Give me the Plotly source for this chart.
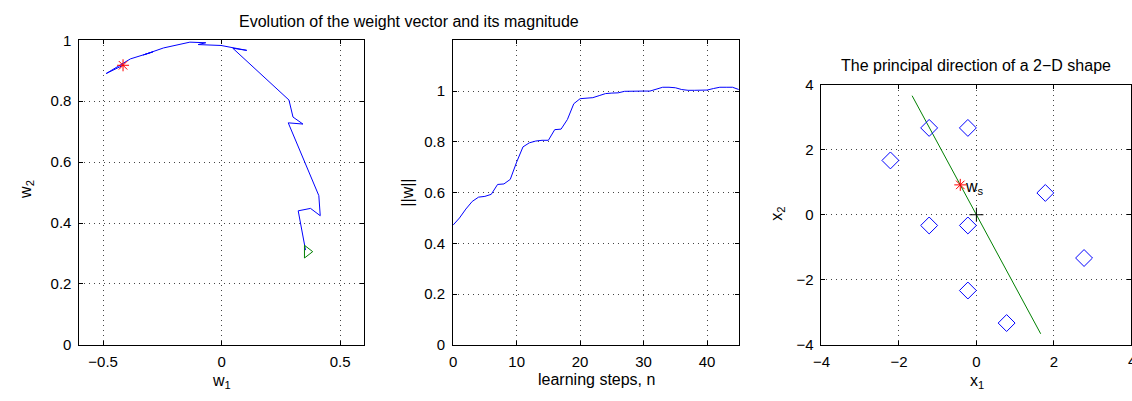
import plotly.graph_objects as go

W, H = 1132, 401

# ---- data ----
# left panel: trajectory of the weight vector (w1, w2)
path_w1 = [0.354, 0.323, 0.375, 0.416, 0.410, 0.345, 0.281, 0.343, 0.301, 0.284,
           0.047, 0.106, -0.002, -0.099, -0.067, -0.134, -0.245, -0.330, -0.290,
           -0.375, -0.310, -0.385, -0.487, -0.416]
path_w2 = [0.311, 0.440, 0.448, 0.424, 0.490, 0.610, 0.729, 0.725, 0.748, 0.804,
           0.974, 0.967, 0.983, 0.986, 0.992, 0.994, 0.975, 0.952, 0.962,
           0.940, 0.956, 0.939, 0.891, 0.918]
w_start = (0.361, 0.306)
w_final = (-0.416, 0.918)

# middle panel: magnitude of w vs learning step
steps = list(range(46))
mag = [0.472, 0.500, 0.535, 0.565, 0.582, 0.585, 0.593, 0.632, 0.634, 0.652,
       0.720, 0.780, 0.796, 0.803, 0.806, 0.806, 0.848, 0.850, 0.888, 0.950,
       0.970, 0.972, 0.974, 0.982, 0.990, 0.992, 0.993, 0.999, 1.000, 1.000,
       1.000, 1.000, 1.008, 1.015, 1.015, 1.013, 1.006, 1.003, 1.003, 1.003,
       1.004, 1.010, 1.015, 1.015, 1.015, 1.006]

# right panel: 2-D shape points and principal direction
pts_x1 = [-1.22, -0.22, -2.22, 1.78, -1.22, -0.22, 2.78, -0.22, 0.78]
pts_x2 = [2.67, 2.67, 1.67, 0.67, -0.33, -0.33, -1.33, -2.33, -3.33]
dir_x1 = [-1.66, 1.66]
dir_x2 = [3.66, -3.66]

# ---- layout helpers ----
def fx(px):
    return px / W

def fy(py):
    return 1 - py / H

BLUE = "#0000ff"
GREEN = "#008000"
RED = "#ff0000"
FONT = "Liberation Sans, Arial, sans-serif"
FS = 15
TS = 16

fig = go.Figure()

# left
fig.add_trace(go.Scatter(x=path_w1, y=path_w2, mode="lines",
                         line=dict(color=BLUE, width=1), xaxis="x", yaxis="y"))
fig.add_trace(go.Scatter(x=[w_start[0]], y=[w_start[1]], mode="markers",
                         marker=dict(symbol="triangle-right-open", size=11,
                                     color=GREEN, line=dict(width=1, color=GREEN)),
                         xaxis="x", yaxis="y"))
fig.add_trace(go.Scatter(x=[w_final[0]], y=[w_final[1]], mode="markers",
                         marker=dict(symbol="asterisk-open", size=10,
                                     color=RED, line=dict(width=1, color=RED)),
                         xaxis="x", yaxis="y"))
# middle
fig.add_trace(go.Scatter(x=steps, y=mag, mode="lines",
                         line=dict(color=BLUE, width=1), xaxis="x2", yaxis="y2"))
# right
fig.add_trace(go.Scatter(x=dir_x1, y=dir_x2, mode="lines",
                         line=dict(color=GREEN, width=1), xaxis="x3", yaxis="y3"))
fig.add_trace(go.Scatter(x=pts_x1, y=pts_x2, mode="markers",
                         marker=dict(symbol="diamond-open", size=13, color=BLUE,
                                     line=dict(width=1, color=BLUE)),
                         xaxis="x3", yaxis="y3"))
fig.add_trace(go.Scatter(x=[w_final[0]], y=[w_final[1]], mode="markers",
                         marker=dict(symbol="asterisk-open", size=10, color=RED,
                                     line=dict(width=1, color=RED)),
                         xaxis="x3", yaxis="y3"))
fig.add_trace(go.Scatter(x=[0], y=[0], mode="markers",
                         marker=dict(symbol="cross-thin-open", size=10, color="black",
                                     line=dict(width=1, color="black")),
                         xaxis="x3", yaxis="y3"))

axis_common = dict(showline=True, linecolor="black", linewidth=1, mirror="allticks",
                   ticks="inside", ticklen=4, tickcolor="black",
                   showgrid=True, gridcolor="#444444", griddash="1px,4px", gridwidth=1,
                   zeroline=False, tickfont=dict(family=FONT, size=FS, color="black"))
xcommon = dict(axis_common, ticklabelstandoff=3)
ycommon = dict(axis_common, ticklabelstandoff=4)

fig.update_layout(
    width=W, height=H, margin=dict(l=0, r=0, t=0, b=0),
    paper_bgcolor="white", plot_bgcolor="white", showlegend=False,
    font=dict(family=FONT, size=FS, color="black"),
    xaxis=dict(domain=[fx(71), fx(357.7)], range=[-0.6, 0.6],
               tickvals=[-0.5, 0, 0.5], anchor="y", **xcommon),
    yaxis=dict(domain=[fy(350.7), fy(32.7)], range=[0, 1],
               tickvals=[0, 0.2, 0.4, 0.6, 0.8, 1], anchor="x", **ycommon),
    xaxis2=dict(domain=[fx(447.7), fx(735.7)], range=[0, 45],
                tickvals=[0, 10, 20, 30, 40], anchor="y2", **xcommon),
    yaxis2=dict(domain=[fy(350.7), fy(32.7)], range=[0, 1.2],
                tickvals=[0, 0.2, 0.4, 0.6, 0.8, 1], anchor="x2", **ycommon),
    xaxis3=dict(domain=[fx(819), fx(1131.3)], range=[-4, 4],
                tickvals=[-4, -2, 0, 2, 4], anchor="y3", **xcommon),
    yaxis3=dict(domain=[fy(350.7), fy(79)], range=[-4, 4],
                tickvals=[-4, -2, 0, 2, 4], anchor="x3", **ycommon),
)

def ann(text, px, py, angle=0, size=TS, xanchor="center"):
    fig.add_annotation(text=text, x=fx(px), y=fy(py), xref="paper", yref="paper",
                       showarrow=False, textangle=angle, xanchor=xanchor, yanchor="middle",
                       font=dict(family=FONT, size=size, color="black"))

ann("Evolution of the weight vector and its magnitude", 403, 13)
ann("The principal direction of a 2\u2212D shape", 975, 59)
ann("w<sub>1</sub>", 214, 389)
ann("w<sub>2</sub>", 17, 188, angle=-90)
ann("learning steps, n", 592, 387)
ann("||w||", 402, 192, angle=-90)
ann("x<sub>1</sub>", 976, 389)
ann("x<sub>2</sub>", 775, 214, angle=-90)
# right-edge tick label that the reference shows partly cut off
ann("4", 1126, 367, size=FS, xanchor="left")

fig.add_annotation(text="w<sub>s</sub>", x=w_final[0], y=w_final[1], xref="x3", yref="y3",
                   showarrow=False, xanchor="left", yanchor="middle", xshift=3, yshift=-3,
                   font=dict(family=FONT, size=16, color="black"))

fig.write_html("out.html")
